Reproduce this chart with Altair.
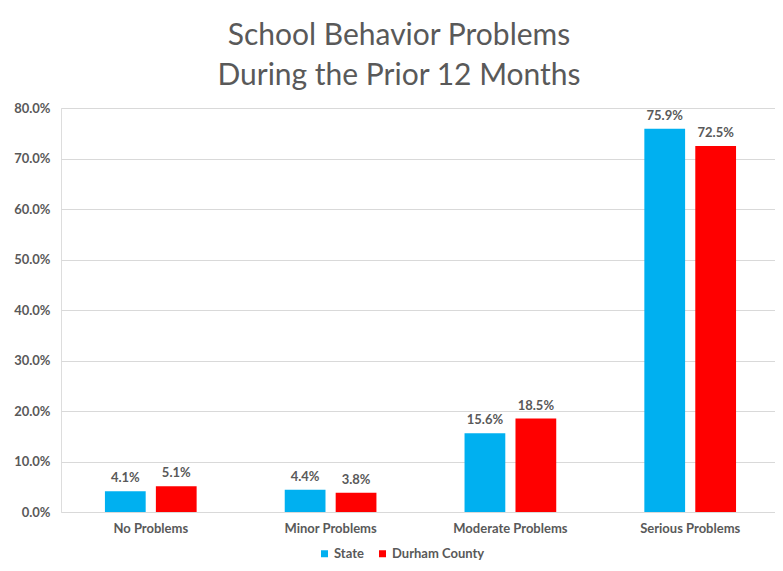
import altair as alt
import pandas as pd

categories = ["No Problems", "Minor Problems", "Moderate Problems", "Serious Problems"]
series = ["State", "Durham County"]
state_values = [4.1, 4.4, 15.6, 75.9]
durham_values = [5.1, 3.8, 18.5, 72.5]
colors = ["#00B0F0", "#FF0000"]

rows = []
for c, v in zip(categories, state_values):
    rows.append({"category": c, "series": "State", "value": v / 100})
for c, v in zip(categories, durham_values):
    rows.append({"category": c, "series": "Durham County", "value": v / 100})
df = pd.DataFrame(rows)

FONT = "Lato"
GRAY = "#595959"
W, H = 714, 404
PL, PT, PR, PB = 53, 100, 0, 51

x = alt.X("category:N", sort=categories, title=None,
          scale=alt.Scale(paddingInner=0.49, paddingOuter=0.2305, align=0.53),
          axis=alt.Axis(labelAngle=0, labelFont=FONT, labelFontSize=13, labelFontWeight="bold",
                        labelColor=GRAY, labelPadding=10, ticks=False, domain=False))
xo = alt.XOffset("series:N", sort=series, scale=alt.Scale(paddingInner=0.2))
y = alt.Y("value:Q", title=None,
          scale=alt.Scale(domain=[0, 0.8]),
          axis=alt.Axis(format=".1%", values=[i / 10 for i in range(9)], labelFont=FONT,
                        labelFontSize=13, labelFontWeight="bold", labelColor=GRAY,
                        labelPadding=11, ticks=False, domain=False, grid=True,
                        gridColor="#D9D9D9", gridWidth=1))
color = alt.Color("series:N", sort=series, scale=alt.Scale(domain=series, range=colors),
                  legend=alt.Legend(title=None, orient="none", direction="horizontal",
                                    legendX=257, legendY=439, symbolType="square",
                                    symbolSize=49, labelFont=FONT, labelFontSize=13,
                                    labelFontWeight="bold", labelColor=GRAY, labelOffset=3,
                                    columnPadding=12, symbolStrokeWidth=0))

bars = alt.Chart(df).mark_bar().encode(x=x, xOffset=xo, y=y, color=color)
labels = alt.Chart(df).mark_text(baseline="bottom", dy=-6, font=FONT, fontSize=13,
                                 fontWeight="bold", color=GRAY).encode(
    x=x, xOffset=xo, y=y, text=alt.Text("value:Q", format=".1%"))

chart = alt.layer(bars, labels).properties(
    width=W, height=H,
    title=alt.Title(["School Behavior Problems", "During the Prior 12 Months"],
                    font=FONT, fontSize=30, fontWeight="normal", color=GRAY,
                    lineHeight=40, anchor="middle", dx=-19, offset=11),
    autosize=alt.AutoSizeParams(type="none"),
    padding={"left": PL, "top": PT, "right": PR, "bottom": PB},
).configure_view(stroke=None).configure(background="white")

chart.save("out.html", embed_options={"renderer": "svg", "actions": False})
